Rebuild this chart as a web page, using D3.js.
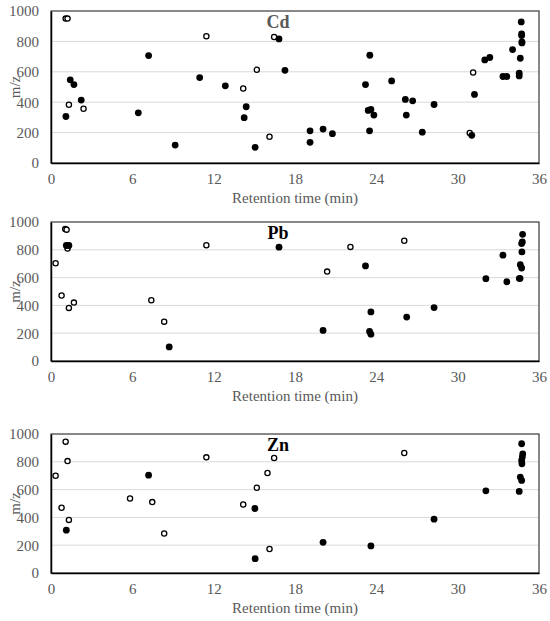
<!DOCTYPE html>
<html>
<head>
<meta charset="utf-8">
<script src="https://cdn.jsdelivr.net/npm/d3@7"></script>
<style>
  body { margin: 0; background: #fff; }
  svg text { font-family: "Liberation Serif", "Times New Roman", serif; }
</style>
</head>
<body>
<div id="chart"></div>
<script>
// axis ticks
let xTicks = [0, 6, 12, 18, 24, 30, 36];
let yTicks = [0, 200, 400, 600, 800, 1000];

// [retention time (min), m/z]
let cdFilled = [
  [1.1, 306], [1.42, 547], [1.69, 516], [2.23, 414], [6.44, 330], [7.2, 707],
  [9.16, 118], [10.97, 562], [12.86, 508], [14.4, 370], [14.25, 298], [15.06, 103],
  [16.82, 816], [17.26, 610], [19.11, 212], [19.11, 136], [20.07, 223], [20.76, 193],
  [23.2, 516], [23.52, 709], [23.4, 346], [23.6, 352], [23.82, 315], [23.5, 212],
  [25.13, 540], [26.14, 418], [26.21, 315], [26.68, 409], [27.39, 203], [28.26, 385],
  [31.04, 182], [31.24, 451], [32.0, 678], [32.37, 694], [33.34, 569], [33.63, 569],
  [34.05, 746], [34.54, 591], [34.54, 573], [34.62, 689], [34.69, 928], [34.72, 849],
  [34.72, 838], [34.74, 797], [34.74, 790]
];
let cdOpen = [
  [1.08, 950], [1.22, 950], [1.32, 383], [2.4, 357], [11.46, 834], [14.18, 490],
  [15.18, 613], [16.12, 173], [16.46, 829], [31.14, 595], [30.89, 197]
];

let pbFilled = [
  [1.13, 831], [1.32, 831], [8.72, 101], [16.82, 819], [20.07, 220], [23.2, 684],
  [23.6, 353], [23.5, 213], [23.6, 193], [26.24, 316], [28.26, 384], [32.08, 592],
  [33.34, 761], [33.63, 570], [34.6, 594], [34.79, 911], [34.77, 857], [34.72, 845],
  [34.74, 785], [34.62, 693], [34.72, 669]
];
let pbOpen = [
  [0.34, 703], [1.05, 949], [1.15, 945], [1.22, 809], [0.78, 471], [1.32, 382],
  [1.69, 420], [7.4, 437], [8.35, 283], [11.46, 833], [20.37, 643], [22.09, 821],
  [26.06, 865], [34.54, 594]
];

let znFilled = [
  [1.13, 308], [7.2, 704], [15.04, 464], [15.06, 103], [20.07, 221], [23.6, 195],
  [28.26, 387], [32.08, 591], [34.54, 587], [34.72, 930], [34.8, 856], [34.77, 834],
  [34.72, 810], [34.74, 786], [34.62, 690], [34.72, 666]
];
let znOpen = [
  [0.34, 700], [1.08, 945], [1.22, 805], [0.78, 469], [1.32, 382], [5.83, 536],
  [7.47, 510], [8.35, 284], [11.46, 832], [14.18, 493], [15.18, 613], [15.97, 719],
  [16.12, 173], [16.46, 827], [26.06, 863]
];

const width = 550, height = 621;
const left = 51, right = 539;
const font = "'Liberation Serif', 'Times New Roman', serif";

const svg = d3.select("#chart").append("svg")
  .attr("width", width)
  .attr("height", height)
  .attr("font-family", font);

const x = d3.scaleLinear().domain([0, 36]).range([left, right]);

// one panel per metal
function drawPanel(top, bottom, label, labelColor, filled, open) {
  const y = d3.scaleLinear().domain([0, 1000]).range([bottom, top]);
  const g = svg.append("g");

  // gridlines
  g.selectAll(".grid")
    .data(yTicks.slice(1, -1))
    .enter()
    .append("line")
    .attr("x1", left).attr("x2", right)
    .attr("y1", (d) => y(d)).attr("y2", (d) => y(d))
    .attr("stroke", "#d9d9d9")
    .attr("stroke-width", 1);

  // plot border
  g.append("rect")
    .attr("x", left).attr("y", top)
    .attr("width", right - left).attr("height", bottom - top)
    .attr("fill", "none")
    .attr("stroke", "#3a3a3a")
    .attr("stroke-width", 1.2);

  // axes
  const xAxis = d3.axisBottom(x).tickValues(xTicks).tickSize(0).tickPadding(10)
    .tickFormat(d3.format("d"));
  const yAxis = d3.axisLeft(y).tickValues(yTicks).tickSize(0).tickPadding(12)
    .tickFormat(d3.format("d"));

  const gx = g.append("g").attr("transform", `translate(0,${bottom})`).call(xAxis);
  const gy = g.append("g").attr("transform", `translate(${left},0)`).call(yAxis);
  [gx, gy].forEach((a) => {
    a.attr("font-family", font).attr("font-size", 15);
    a.select(".domain").attr("stroke", "#000").attr("stroke-width", 1.5);
    a.selectAll("text").attr("fill", "#595959");
  });

  // axis titles
  g.append("text")
    .attr("x", (left + right) / 2)
    .attr("y", bottom + 40)
    .attr("text-anchor", "middle")
    .attr("fill", "#595959")
    .attr("font-size", 15)
    .text("Retention time (min)");

  g.append("text")
    .attr("transform", `translate(20,${(top + bottom) / 2}) rotate(-90)`)
    .attr("text-anchor", "middle")
    .attr("fill", "#595959")
    .attr("font-size", 15)
    .text("m/z");

  // panel label
  g.append("text")
    .attr("x", 278)
    .attr("y", top + 17)
    .attr("text-anchor", "middle")
    .attr("fill", labelColor)
    .attr("font-size", 18)
    .attr("font-weight", "bold")
    .text(label);

  // open points
  g.selectAll(".open")
    .data(open)
    .enter()
    .append("circle")
    .attr("cx", (d) => x(d[0]))
    .attr("cy", (d) => y(d[1]))
    .attr("r", 2.6)
    .attr("fill", "#fff")
    .attr("stroke", "#000")
    .attr("stroke-width", 1.3);

  // filled points
  g.selectAll(".filled")
    .data(filled)
    .enter()
    .append("circle")
    .attr("cx", (d) => x(d[0]))
    .attr("cy", (d) => y(d[1]))
    .attr("r", 3.4)
    .attr("fill", "#000");
}

drawPanel(11, 163, "Cd", "#595959", cdFilled, cdOpen);
drawPanel(222, 361, "Pb", "#000", pbFilled, pbOpen);
drawPanel(434, 573, "Zn", "#000", znFilled, znOpen);
</script>
</body>
</html>
